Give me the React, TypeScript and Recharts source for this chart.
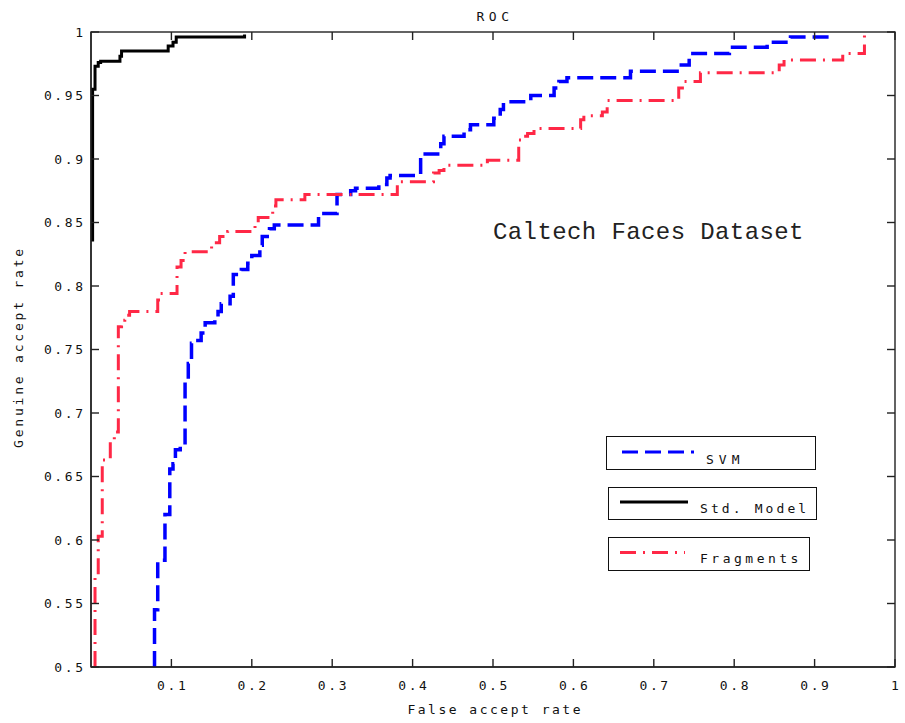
import React from 'react';
import { LineChart, Line, XAxis, YAxis, Legend } from 'recharts';

// ---- data ----
const SVM_FAR = [0.079, 0.079, 0.083, 0.092, 0.098, 0.102, 0.105, 0.111, 0.117, 0.121, 0.125, 0.129, 0.137, 0.142, 0.154, 0.158, 0.162, 0.173, 0.177, 0.187, 0.195, 0.2, 0.21, 0.213, 0.222, 0.228, 0.283, 0.306, 0.323, 0.329, 0.358, 0.368, 0.372, 0.41, 0.435, 0.439, 0.464, 0.472, 0.501, 0.509, 0.513, 0.547, 0.576, 0.582, 0.592, 0.671, 0.729, 0.744, 0.794, 0.841, 0.87, 0.92];
const SVM_GAR = [0.5, 0.545, 0.584, 0.62, 0.656, 0.66, 0.671, 0.675, 0.726, 0.739, 0.755, 0.757, 0.763, 0.771, 0.773, 0.78, 0.786, 0.792, 0.809, 0.813, 0.818, 0.824, 0.832, 0.839, 0.845, 0.848, 0.857, 0.872, 0.875, 0.877, 0.88, 0.885, 0.887, 0.904, 0.912, 0.918, 0.923, 0.927, 0.932, 0.939, 0.945, 0.95, 0.956, 0.961, 0.964, 0.969, 0.974, 0.983, 0.988, 0.992, 0.996, 0.996];

const STD_FAR = [0.002, 0.002, 0.005, 0.009, 0.012, 0.036, 0.038, 0.096, 0.102, 0.106, 0.191];
const STD_GAR = [0.835, 0.955, 0.973, 0.976, 0.977, 0.981, 0.985, 0.989, 0.992, 0.996, 0.998];

const FRAG_FAR = [0.005, 0.005, 0.009, 0.014, 0.024, 0.029, 0.034, 0.038, 0.042, 0.048, 0.083, 0.086, 0.107, 0.112, 0.117, 0.15, 0.16, 0.17, 0.204, 0.208, 0.226, 0.23, 0.266, 0.381, 0.426, 0.433, 0.439, 0.493, 0.532, 0.536, 0.543, 0.551, 0.609, 0.613, 0.636, 0.642, 0.731, 0.738, 0.758, 0.856, 0.862, 0.935, 0.962];
const FRAG_GAR = [0.5, 0.572, 0.603, 0.663, 0.677, 0.685, 0.768, 0.773, 0.777, 0.78, 0.789, 0.794, 0.815, 0.82, 0.827, 0.834, 0.839, 0.843, 0.849, 0.854, 0.863, 0.868, 0.872, 0.882, 0.889, 0.891, 0.895, 0.899, 0.915, 0.918, 0.92, 0.924, 0.931, 0.934, 0.937, 0.946, 0.956, 0.961, 0.968, 0.974, 0.978, 0.983, 1.0];

const X_TICKS = [0.1, 0.2, 0.3, 0.4, 0.5, 0.6, 0.7, 0.8, 0.9, 1];
const Y_TICKS = [0.5, 0.55, 0.6, 0.65, 0.7, 0.75, 0.8, 0.85, 0.9, 0.95, 1];
const X_DOMAIN = [0, 1];
const Y_DOMAIN = [0.5, 1];

const SERIES_NAMES = ['SVM', 'Std. Model', 'Fragments'];
const TITLE = 'ROC';
const X_LABEL = 'False accept rate';
const Y_LABEL = 'Genuine accept rate';
const ANNOTATION = 'Caltech Faces Dataset';

// ---- layout ----
const CHART_W = 905;
const CHART_H = 723;
const MARGIN = { top: 32, right: 10, left: 0, bottom: 0 };
const Y_AXIS_W = 91;
const X_AXIS_H = 56;
const PLOT_X = MARGIN.left + Y_AXIS_W;
const PLOT_Y = MARGIN.top;
const PLOT_W = CHART_W - MARGIN.left - MARGIN.right - Y_AXIS_W;
const PLOT_H = CHART_H - MARGIN.top - MARGIN.bottom - X_AXIS_H;

// ---- styles ----
const FONT = '"DejaVu Sans Mono", monospace';
const TEXT_COLOR = '#111';
const AXIS_COLOR = '#222';
const BLUE = '#0000ff';
const RED = '#ff2846';
const BLACK = '#000000';
const BLUE_DASH = '16 7';
const RED_DASH = '16 7 2 7';
const TICK_LEN = 8;
const AXIS_SW = 1.4;
const AXIS_LINE = { stroke: AXIS_COLOR, strokeWidth: AXIS_SW };

const toPoints = (xs: number[], ys: number[]) => xs.map((x, i) => ({ x, y: ys[i] }));
const svmData = toPoints(SVM_FAR, SVM_GAR);
const stdData = toPoints(STD_FAR, STD_GAR);
const fragData = toPoints(FRAG_FAR, FRAG_GAR);

const SERIES = [
  { name: SERIES_NAMES[0], data: svmData, color: BLUE, dash: BLUE_DASH, width: 3.5 },
  { name: SERIES_NAMES[1], data: stdData, color: BLACK, dash: undefined, width: 3 },
  { name: SERIES_NAMES[2], data: fragData, color: RED, dash: RED_DASH, width: 3 },
];

// bottom axis tick: inward tick at the bottom plus the mirrored inward tick at the top
const XTick = (props: any) => {
  const { x, y, payload } = props;
  const ls = 2.6;
  const topY = y - PLOT_H;
  return (
    <g>
      <line x1={x} y1={y} x2={x} y2={y - TICK_LEN} stroke={AXIS_COLOR} strokeWidth={AXIS_SW} />
      <line x1={x} y1={topY} x2={x} y2={topY + TICK_LEN} stroke={AXIS_COLOR} strokeWidth={AXIS_SW} />
      <text x={x + ls / 2} y={y + 23} textAnchor="middle" fontFamily={FONT} fontSize={13} letterSpacing={ls} fill={TEXT_COLOR}>
        {String(payload.value)}
      </text>
    </g>
  );
};

// left axis tick: inward tick at the left plus the mirrored inward tick at the right
const YTick = (props: any) => {
  const { x, y, payload } = props;
  const ls = 2.6;
  const rightX = x + PLOT_W;
  return (
    <g>
      <line x1={x} y1={y} x2={x + TICK_LEN} y2={y} stroke={AXIS_COLOR} strokeWidth={AXIS_SW} />
      <line x1={rightX} y1={y} x2={rightX - TICK_LEN} y2={y} stroke={AXIS_COLOR} strokeWidth={AXIS_SW} />
      <text x={x - 8 + ls} y={y + 4.5} textAnchor="end" fontFamily={FONT} fontSize={13} letterSpacing={ls} fill={TEXT_COLOR}>
        {String(payload.value)}
      </text>
    </g>
  );
};

const LEGEND_BOXES = [
  { left: 0, top: 0, w: 210, h: 34, lx1: 16, lx2: 88, ly: 16, tx: 100, ty: 23, ls: 5 },
  { left: 2, top: 51, w: 209, h: 33, lx1: 12, lx2: 80, ly: 15, tx: 92, ty: 21.5, ls: 3.1 },
  { left: 2, top: 101, w: 202, h: 34, lx1: 12, lx2: 77, ly: 15.5, tx: 92, ty: 21, ls: 3.5 },
];

const LegendContent = () => (
  <div style={{ position: 'relative', width: 230, height: 140 }}>
    {SERIES.map((s, i) => {
      const b = LEGEND_BOXES[i];
      return (
        <div
          key={s.name}
          style={{
            position: 'absolute',
            left: b.left,
            top: b.top,
            width: b.w,
            height: b.h,
            boxSizing: 'border-box',
            border: '1.5px solid #111',
            background: '#fff',
          }}
        >
          <svg width={b.w} height={b.h} style={{ position: 'absolute', left: -1.5, top: -1.5 }}>
            <line x1={b.lx1} y1={b.ly} x2={b.lx2} y2={b.ly} stroke={s.color} strokeWidth={3} strokeDasharray={s.dash} />
            <text x={b.tx} y={b.ty + 4.5} fontFamily={FONT} fontSize={13} letterSpacing={b.ls} fill={TEXT_COLOR}>
              {s.name}
            </text>
          </svg>
        </div>
      );
    })}
  </div>
);

export default function App() {
  return (
    <div style={{ position: 'absolute', left: 0, top: 0, width: CHART_W, height: CHART_H, background: '#fff' }}>
      <LineChart width={CHART_W} height={CHART_H} margin={MARGIN}>
        <XAxis
          type="number"
          dataKey="x"
          domain={X_DOMAIN}
          allowDataOverflow
          ticks={X_TICKS}
          interval={0}
          height={X_AXIS_H}
          tickSize={0}
          tickMargin={0}
          tickLine={false}
          axisLine={AXIS_LINE}
          tick={<XTick />}
        />
        <YAxis
          type="number"
          domain={Y_DOMAIN}
          allowDataOverflow
          ticks={Y_TICKS}
          interval={0}
          width={Y_AXIS_W}
          tickSize={0}
          tickMargin={0}
          tickLine={false}
          axisLine={AXIS_LINE}
          tick={<YTick />}
        />
        {SERIES.map((s) => (
          <Line
            key={s.name}
            name={s.name}
            data={s.data}
            dataKey="y"
            type="stepAfter"
            stroke={s.color}
            strokeWidth={s.width}
            strokeDasharray={s.dash}
            dot={false}
            activeDot={false}
            isAnimationActive={false}
          />
        ))}
        <Legend
          layout="vertical"
          align="center"
          verticalAlign="middle"
          content={<LegendContent />}
          wrapperStyle={{ left: 606, top: 436, width: 230, height: 140, right: 'auto', bottom: 'auto' }}
        />
        <text x={493 + 2} y={21} textAnchor="middle" fontFamily={FONT} fontSize={13} letterSpacing={4.5} fill={TEXT_COLOR}>
          {TITLE}
        </text>
        <text x={494 + 1.2} y={714} textAnchor="middle" fontFamily={FONT} fontSize={13} letterSpacing={2.5} fill={TEXT_COLOR}>
          {X_LABEL}
        </text>
        <text
          x={0}
          y={0}
          transform="translate(23,347) rotate(-90)"
          textAnchor="middle"
          fontFamily={FONT}
          fontSize={13}
          letterSpacing={2.8}
          fill={TEXT_COLOR}
        >
          {Y_LABEL}
        </text>
        <text x={493} y={239} fontFamily='"Liberation Mono", monospace' fontSize={24} letterSpacing={0.4} fill="#222">
          {ANNOTATION}
        </text>
        {/* box frame around the plot area, drawn last so nothing covers it */}
        <rect x={PLOT_X} y={PLOT_Y} width={PLOT_W} height={PLOT_H} fill="none" stroke={AXIS_COLOR} strokeWidth={AXIS_SW} />
      </LineChart>
    </div>
  );
}
